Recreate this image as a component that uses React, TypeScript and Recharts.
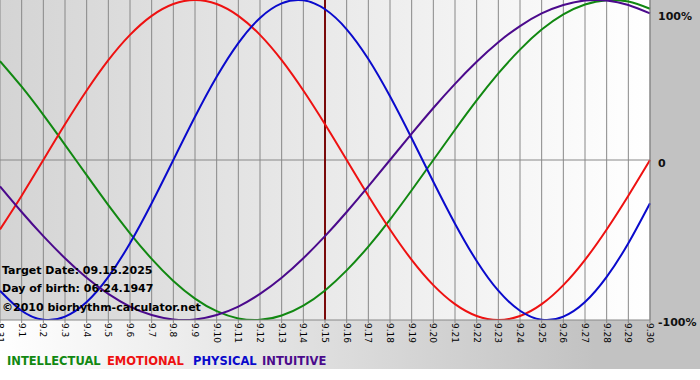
import { LineChart, Line, XAxis, YAxis, CartesianGrid, ReferenceLine } from "recharts"

const days = [
  "8.31", "9.1", "9.2", "9.3", "9.4", "9.5", "9.6", "9.7", "9.8", "9.9", "9.10",
  "9.11", "9.12", "9.13", "9.14", "9.15", "9.16", "9.17", "9.18", "9.19", "9.20",
  "9.21", "9.22", "9.23", "9.24", "9.25", "9.26", "9.27", "9.28", "9.29", "9.30",
]

const intellectual = [
  61.8, 45.8, 28.2, 9.5, -9.5, -28.2, -45.8, -61.8, -75.6, -86.6, -94.5, -99.0, -99.9, -97.2, -91.0,
  -81.5, -69.0, -54.1, -37.2, -18.9, 0, 18.9, 37.2, 54.1, 69.0, 81.5, 91.0, 97.2, 99.9, 99.0, 94.5,
]
const emotional = [
  -43.4, -22.3, 0, 22.3, 43.4, 62.4, 78.2, 90.1, 97.5, 100, 97.5, 90.1, 78.2, 62.4, 43.4,
  22.3, 0, -22.3, -43.4, -62.4, -78.2, -90.1, -97.5, -100, -97.5, -90.1, -78.2, -62.4, -43.4, -22.3, 0,
]
const physical = [
  -81.7, -94.2, -99.8, -97.9, -88.8, -73.1, -52.0, -27.0, 0, 27.0, 52.0, 73.1, 88.8, 97.9, 99.8,
  94.2, 81.7, 63.1, 39.8, 13.6, -13.6, -39.8, -63.1, -81.7, -94.2, -99.8, -97.9, -88.8, -73.1, -52.0, -27.0,
]
const intuitive = [
  -16.5, -32.5, -47.6, -61.4, -73.6, -83.7, -91.6, -96.9, -99.7, -99.7, -96.9, -91.6, -83.7, -73.6, -61.4,
  -47.6, -32.5, -16.5, 0, 16.5, 32.5, 47.6, 61.4, 73.6, 83.7, 91.6, 96.9, 99.7, 99.7, 96.9, 91.6,
]

const yTicks = [-100, 0, 100]
const yLabels: Record<number, string> = { "-100": "-100%", "0": "0", "100": "100%" }
const targetIndex = 15

const data = days.map((d, i) => ({
  i,
  day: d,
  intellectual: intellectual[i],
  emotional: emotional[i],
  physical: physical[i],
  intuitive: intuitive[i],
}))

const COLORS = {
  intellectual: "#118811",
  emotional: "#ee1111",
  physical: "#0a0acc",
  intuitive: "#4b0a8c",
}

const FONT = "'DejaVu Sans', Verdana, sans-serif"

function XTick({ x, y, payload }: any) {
  return (
    <text
      x={x}
      y={y}
      dy="0.35em"
      transform={`rotate(90 ${x} ${y})`}
      textAnchor="start"
      fontFamily={FONT}
      fontSize={9}
      fill="#000"
    >
      {days[payload.value]}
    </text>
  )
}

function YTick({ y, payload }: any) {
  const off = payload.value === 100 ? 7 : payload.value === 0 ? 3 : 2
  return (
    <text
      x={658}
      y={y + off}
      dy="0.35em"
      textAnchor="start"
      fontFamily={FONT}
      fontSize={11}
      fontWeight="bold"
      fill="#111"
    >
      {yLabels[payload.value]}
    </text>
  )
}

const legend = [
  { text: "INTELLECTUAL", color: COLORS.intellectual, left: 7 },
  { text: "EMOTIONAL", color: COLORS.emotional, left: 107 },
  { text: "PHYSICAL", color: COLORS.physical, left: 193 },
  { text: "INTUITIVE", color: COLORS.intuitive, left: 262 },
]

const notes = [
  { text: "Target Date: 09.15.2025", top: 264 },
  { text: "Day of birth: 06.24.1947", top: 282 },
  { text: "\u00a92010 biorhythm-calculator.net", top: 301 },
]

const lineProps = {
  type: "natural" as const,
  strokeWidth: 2,
  dot: false,
  activeDot: false,
  isAnimationActive: false,
}

export default function App() {
  return (
    <div
      style={{
        position: "relative",
        width: 700,
        height: 380,
        overflow: "hidden",
        background: "#fff",
        fontFamily: FONT,
      }}
    >
      <style>{"body{margin:0}"}</style>
      <div
        style={{
          position: "absolute",
          left: 0,
          top: 0,
          width: 700,
          height: 369,
          background: "linear-gradient(to right, #ffffff, #c2c2c2 85%, #c2c2c2)",
        }}
      />
      <div
        style={{
          position: "absolute",
          left: 0,
          top: 0,
          width: 650,
          height: 320,
          background: "linear-gradient(to right, #d4d4d4, #ffffff)",
        }}
      />
      <div style={{ position: "absolute", left: 0, top: 0 }}>
        <LineChart width={700} height={380} data={data} margin={{ top: 0, right: 0, bottom: 0, left: 0 }}>
          <CartesianGrid vertical horizontal={false} stroke="#888" strokeDasharray="" />
          <XAxis
            dataKey="i"
            type="number"
            domain={[0, 30]}
            ticks={days.map((_, i) => i)}
            interval={0}
            height={60}
            axisLine={{ stroke: "#888" }}
            tickLine={{ stroke: "#888" }}
            tickSize={3}
            tickMargin={0}
            tick={<XTick />}
          />
          <YAxis
            orientation="right"
            domain={[-100, 100]}
            ticks={yTicks}
            width={50}
            axisLine={{ stroke: "#888" }}
            tickLine={false}
            tick={<YTick />}
            allowDataOverflow
          />
          <ReferenceLine y={0} stroke="#888" />
          <ReferenceLine x={targetIndex} stroke="#7a0a0a" strokeWidth={2} />
          <Line dataKey="intellectual" stroke={COLORS.intellectual} {...lineProps} />
          <Line dataKey="emotional" stroke={COLORS.emotional} {...lineProps} />
          <Line dataKey="physical" stroke={COLORS.physical} {...lineProps} />
          <Line dataKey="intuitive" stroke={COLORS.intuitive} {...lineProps} />
        </LineChart>
      </div>
      {notes.map((n) => (
        <div
          key={n.text}
          style={{
            position: "absolute",
            left: 2,
            top: n.top,
            fontSize: 11,
            fontWeight: "bold",
            color: "#000",
            whiteSpace: "nowrap",
            lineHeight: "14px",
          }}
        >
          {n.text}
        </div>
      ))}
      {legend.map((l) => (
        <div
          key={l.text}
          style={{
            position: "absolute",
            left: l.left,
            top: 354,
            fontSize: 11.5,
            fontWeight: "bold",
            color: l.color,
            whiteSpace: "nowrap",
            lineHeight: "14px",
          }}
        >
          {l.text}
        </div>
      ))}
    </div>
  )
}
